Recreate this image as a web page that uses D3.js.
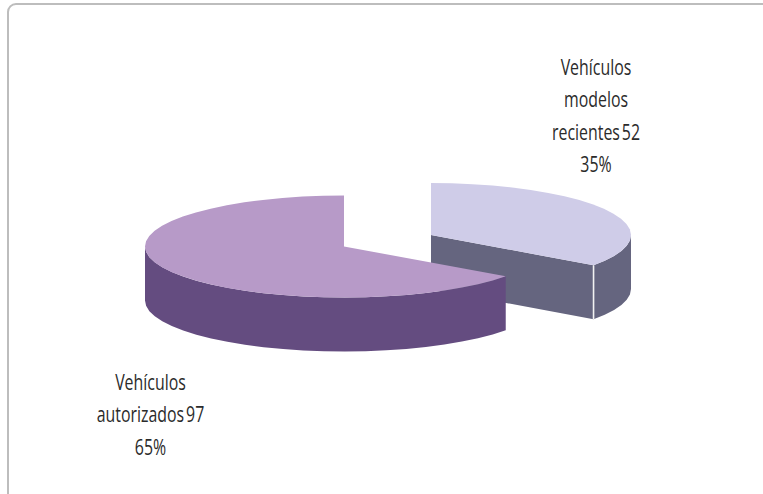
<!DOCTYPE html>
<html><head><meta charset="utf-8">
<script src="https://cdn.jsdelivr.net/npm/d3@7"></script>
<style>html,body{margin:0;padding:0;background:#fff;overflow:hidden}svg{display:block}
text{font-family:"Open Sans",sans-serif;font-size:21.5px;fill:#2b2b2b;text-anchor:middle;word-spacing:-3px}</style>
</head><body><script>
const categories = ["Vehículos modelos recientes", "Vehículos autorizados"];
const values = [52, 97];
const percents = ["35%", "65%"];
const labelLines = [["Vehículos", "modelos", "recientes 52", "35%"], ["Vehículos", "autorizados 97", "65%"]];
const topColors = ["#cfcce8", "#b79ac8"];
const sideColors = ["#65657f", "#644c80"];

const W = 763, H = 494;
const svg = d3.select("body").append("svg").attr("width", W).attr("height", H);
svg.append("rect").attr("x", 8).attr("y", 4).attr("width", 800).attr("height", 500).attr("rx", 8)
  .attr("fill", "#fff").attr("stroke", "#bdbdbd").attr("stroke-width", 2);

const radiiX = [200, 199], radiiY = [52, 51], depth = 54;
const centers = [[431, 235], [344, 246.5]];
const labelPos = [[596, 75], [150.5, 390]];
const textScale = 0.74;
const arcs = d3.pie().sort(null).value(d => d)(values);
const px = d3.scaleLinear().domain([-1, 1]);
const py = d3.scaleLinear().domain([-1, 1]);
const step = Math.PI / 30;

function samples(a0, a1) {
  const n = Math.max(1, Math.round((a1 - a0) / step));
  return d3.range(n + 1).map(i => a0 + (a1 - a0) * i / n);
}
const line = d3.line();

arcs.forEach((arc, i) => {
  const [cx, cy] = centers[i];
  px.range([cx - radiiX[i], cx + radiiX[i]]);
  py.range([cy - radiiY[i], cy + radiiY[i]]);
  const pt = (a, dz = 0) => [px(Math.sin(a)), py(-Math.cos(a)) + dz];
  const g = svg.append("g").attr("class", "slice").attr("data-name", categories[i]);
  const a0 = arc.startAngle, a1 = arc.endAngle;
  const apex = [cx, cy];

  if (i === 0) {
    g.append("path").attr("fill", sideColors[i])
      .attr("d", line([apex, pt(a1), pt(a1, depth), [cx, cy + depth]]) + "Z");
  }
  const r0 = Math.max(a0, Math.PI / 2), r1 = Math.min(a1, Math.PI * 1.5);
  const front = samples(r0, r1);
  const rim = front.map(a => pt(a)).concat(front.slice().reverse().map(a => pt(a, depth)));
  g.append("path").attr("fill", sideColors[i]).attr("d", line(rim) + "Z");
  const top = [apex].concat(samples(a0, a1).map(a => pt(a)));
  g.append("path").attr("fill", topColors[i]).attr("d", line(top) + "Z");
  if (i === 0) {
    g.append("path").attr("fill", "none").attr("stroke", "#f2f2f2").attr("stroke-width", 1.6)
      .attr("d", line([pt(a1), pt(a1, depth)]));
  }
});

labelLines.forEach((lines, i) => {
  const t = svg.append("g").attr("transform", `translate(${labelPos[i][0]},${labelPos[i][1]}) scale(${textScale},1)`)
    .append("text");
  lines.forEach((l, j) => t.append("tspan").attr("x", 0).attr("y", j * 32.3).text(l));
});
</script></body></html>
